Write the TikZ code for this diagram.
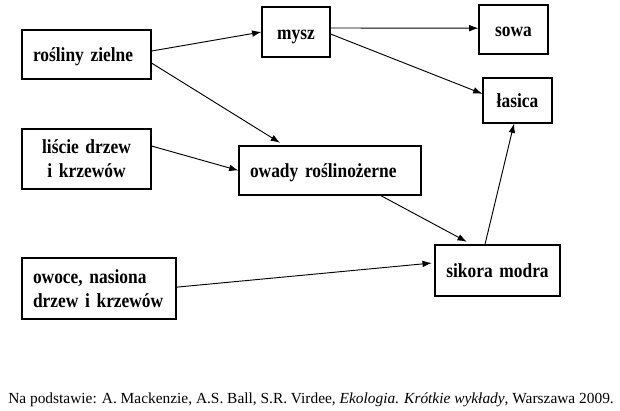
\documentclass[tikz,border=0pt]{standalone}
\usepackage{fontspec}
\setmainfont{Liberation Serif}
\newfontfamily\boxfont[FakeStretch=0.87,WordSpace=0.8]{Liberation Serif}
\usetikzlibrary{arrows.meta}
\tikzset{
foodbox/.style={draw, line width=0.8pt, inner xsep=8.25pt, inner ysep=0pt,
  font=\boxfont\bfseries\fontsize{15}{18}\selectfont},
oneline/.style={text height=11pt, text depth=0pt},
feeds/.style={line width=0.7pt, -{Latex[length=7pt,width=5pt]}}
}

\begin{document}
\begin{tikzpicture}[x=0.75pt,y=-0.75pt]
\useasboundingbox (0,0) rectangle (620,410);
  % kto kogo zjada
  \node[foodbox, oneline, text width=80.25pt, align=left, minimum height=36.75pt] (rosliny) at (86.5,54.5) {rośliny zielne};
  \node[foodbox, oneline, text width=34.5pt, align=center, minimum height=37.5pt] (mysz) at (296,32) {mysz};
  \node[foodbox, oneline, text width=35.25pt, align=center, minimum height=36.75pt] (sowa) at (513.5,29.5) {sowa};
  \node[foodbox, oneline, text width=35.25pt, align=center, minimum height=33.75pt] (lasica) at (517.5,100.5) {łasica};
  \node[foodbox, text width=80.25pt, align=center, minimum height=45pt] (liscie) at (86.5,159) {liście drzew\\ i krzewów};
  \node[foodbox, oneline, text width=120pt, align=left, minimum height=36.75pt] (owady) at (330,170.5) {owady roślinożerne};
  \node[foodbox, oneline, text width=77.25pt, align=center, minimum height=38.25pt] (sikora) at (497.5,270.5) {sikora modra};
  \node[foodbox, text width=99pt, align=left, minimum height=45.75pt] (owoce) at (99,288.5) {owoce, nasiona\\ drzew i krzewów};

\draw[feeds] ([yshift=2.6pt]rosliny.east) -- (mysz.west);
\draw[feeds] ([yshift=-6.4pt]rosliny.east) -- ([xshift=-37.5pt,yshift=2pt]owady.north);
\draw[feeds] ([yshift=3pt]mysz.east) -- ([yshift=1pt]sowa.west);
\draw[feeds] ([yshift=-1.5pt]mysz.east) -- ([yshift=5pt]lasica.west);
\draw[feeds] ([yshift=9.75pt]liscie.east) -- (owady.west);
\draw[feeds] ([xshift=38pt]owady.south) -- ([xshift=-23pt,yshift=2pt]sikora.north);
\draw[feeds] ([yshift=1pt]owoce.east) -- ([xshift=-2pt,yshift=5.6pt]sikora.west);
\draw[feeds] ([xshift=-9.4pt]sikora.north) -- ([xshift=-2.6pt]lasica.south);

  \node[anchor=base west, inner sep=0pt, font=\fontsize{11.55}{13}\selectfont] (zrodlo) at (8,403)
    {Na podstawie: A. Mackenzie, A.S. Ball, S.R. Virdee, \textit{Ekologia. Krótkie wykłady}, Warszawa 2009.};
\end{tikzpicture}
\end{document}
